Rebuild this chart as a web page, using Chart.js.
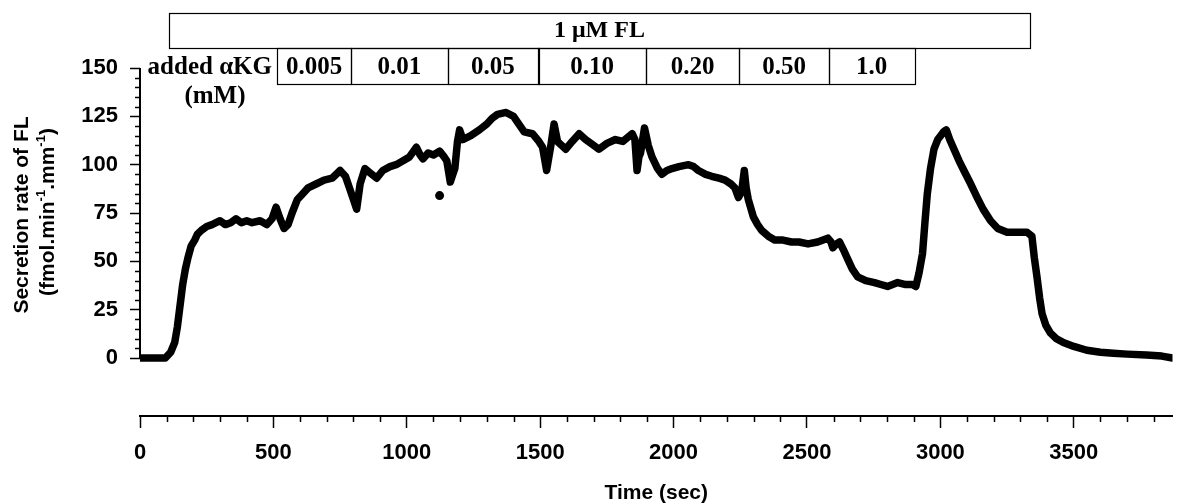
<!DOCTYPE html>
<html><head><meta charset="utf-8">
<script src="https://cdn.jsdelivr.net/npm/chart.js@4/dist/chart.umd.min.js"></script>
<style>html,body{margin:0;padding:0;background:#fff;}#wrap{width:1177px;height:504px;}</style>
</head><body><div id="wrap"><canvas id="c" width="1177" height="504"></canvas></div>
<script>
// ---- data ----
const times = [0,50,95,115,130,140,150,160,170,180,192,205,215,230,250,270,300,320,340,360,380,400,420,450,475,495,510,525,540,555,570,590,610,630,660,690,720,750,770,785,800,812,825,843,860,887,910,937,960,986,1010,1036,1050,1061,1080,1100,1123,1140,1150,1163,1170,1180,1190,1198,1210,1240,1272,1300,1320,1340,1372,1400,1420,1440,1471,1495,1509,1524,1540,1552,1565,1580,1596,1620,1646,1670,1700,1720,1750,1782,1810,1845,1855,1863,1870,1876,1891,1905,1919,1940,1956,1975,1994,2020,2056,2075,2093,2120,2143,2170,2193,2215,2230,2243,2255,2265,2272,2280,2299,2315,2330,2355,2379,2410,2442,2470,2504,2540,2578,2590,2597,2610,2622,2640,2653,2670,2690,2720,2753,2777,2802,2840,2870,2895,2908,2920,2933,2942,2951,2963,2976,2990,3001,3012,3022,3035,3051,3070,3088,3110,3138,3160,3188,3215,3250,3290,3325,3343,3352,3362,3372,3381,3395,3412,3435,3461,3500,3549,3600,3648,3700,3772,3830,3870];
const rates = [0,0,0,3,8,16,27,38,46,52,58,61,64,66,68,69,71,69,70,72,70,71,70,71,69,72,78,72,67,69,75,82,85,88,90,92,93,97,94,88,82,77,90,98,96,93,97,99,100,102,104,109,105,103,106,105,107,104,102,91,94,98,112,118,113,115,118,121,124,126,127,125,121,117,116,112,109,97,110,121,112,110,108,112,116,113,110,108,111,113,112,116,113,97,104,106,119,110,104,98,95,97,98,99,100,99,97,95,94,93,92,90,88,83,86,97,88,82,73,69,66,63,61,61,60,60,59,60,62,60,57,59,60,55,51,46,42,40,39,38,37,39,38,38,37,44,54,70,85,98,108,113,115,117,118,113,108,102,97,91,83,77,71,67,65,65,65,63,52,42,31,23,17,13,10,8,6,4,3,2.5,2,1.5,1,0];
const outlierTimes = [1123];
const outlierRates = [84];
const xTickValues = [0,500,1000,1500,2000,2500,3000,3500];
const yTickValues = [0,25,50,75,100,125,150];
const flLabel = '1 \u03bcM FL';
const flSpan = [108, 3336];
const kgLabels = ['0.005','0.01','0.05','0.10','0.20','0.50','1.0'];
const kgBounds = [515,791,1153,1493,1896,2246,2582,2903];
const xTitle = 'Time (sec)';
const yTitle1 = 'Secretion rate of FL';

const SANS = "'Liberation Sans', Arial, sans-serif";
const SERIF = "'Liberation Serif', 'Times New Roman', serif";

const extras = {
  id: 'extras',
  afterDraw(chart) {
    const ctx = chart.ctx, xs = chart.scales.x, ys = chart.scales.y;
    const ca = chart.chartArea;
    ctx.save();
    ctx.strokeStyle = '#000'; ctx.fillStyle = '#000';
    // y axis line (0..150 only)
    ctx.lineWidth = 2;
    ctx.beginPath();
    ctx.moveTo(ca.left, ys.getPixelForValue(150));
    ctx.lineTo(ca.left, ys.getPixelForValue(0));
    ctx.stroke();
    // minor ticks
    ctx.lineWidth = 1.5;
    ctx.beginPath();
    for (let v = 5; v < 150; v += 5) {
      if (v % 25 === 0) continue;
      const y = Math.round(ys.getPixelForValue(v)) + 0.5;
      ctx.moveTo(ca.left - 5, y); ctx.lineTo(ca.left, y);
    }
    for (let t = 100; t <= 3800; t += 100) {
      if (t % 500 === 0) continue;
      const x = Math.round(xs.getPixelForValue(t)) + 0.5;
      ctx.moveTo(x, ca.bottom); ctx.lineTo(x, ca.bottom + 6);
    }
    ctx.stroke();
    // y title
    ctx.save();
    ctx.translate(22, 215);
    ctx.rotate(-Math.PI / 2);
    ctx.textAlign = 'center'; ctx.textBaseline = 'middle';
    ctx.font = 'bold 21px ' + SANS;
    ctx.fillText(yTitle1, 0, 0);
    ctx.restore();
    ctx.save();
    ctx.translate(48, 212);
    ctx.rotate(-Math.PI / 2);
    ctx.textBaseline = 'middle';
    const segs = [['(fmol.min', 0], ['-1', 1], ['.mm', 0], ['-1', 1], [')', 0]];
    const fN = 'bold 21px ' + SANS, fS = 'bold 13px ' + SANS;
    let total = 0;
    segs.forEach(s => { ctx.font = s[1] ? fS : fN; total += ctx.measureText(s[0]).width; });
    let px = -total / 2;
    ctx.textAlign = 'left';
    segs.forEach(s => {
      ctx.font = s[1] ? fS : fN;
      ctx.fillText(s[0], px, s[1] ? -7 : 0);
      px += ctx.measureText(s[0]).width;
    });
    ctx.restore();
    // x title
    ctx.font = 'bold 21px ' + SANS;
    ctx.textAlign = 'center'; ctx.textBaseline = 'middle';
    ctx.fillText(xTitle, (ca.left + ca.right) / 2, 493);
    // boxes
    ctx.lineWidth = 1.2;
    const fx1 = xs.getPixelForValue(flSpan[0]), fx2 = xs.getPixelForValue(flSpan[1]);
    ctx.strokeRect(Math.round(fx1) + 0.5, 13.5, Math.round(fx2 - fx1), 35);
    ctx.font = 'bold 24px ' + SERIF;
    ctx.fillText(flLabel, (fx1 + fx2) / 2, 31);
    for (let i = 0; i < kgLabels.length; i++) {
      const a = xs.getPixelForValue(kgBounds[i]), b = xs.getPixelForValue(kgBounds[i + 1]);
      ctx.strokeRect(Math.round(a) + 0.5, 48.5, Math.round(b - a), 36);
      ctx.font = 'bold 25px ' + SERIF;
      ctx.fillText(kgLabels[i], (a + b) / 2, 68);
    }
    ctx.font = 'bold 25px ' + SERIF;
    ctx.textAlign = 'right';
    ctx.fillText('added \u03b1KG', 272, 68);
    ctx.textAlign = 'center';
    ctx.fillText('(mM)', 215, 97);
    ctx.restore();
  }
};

new Chart(document.getElementById('c'), {
  type: 'line',
  data: {
    datasets: [
      { data: times.map((t, i) => ({ x: t, y: rates[i] })), borderColor: '#000', backgroundColor: '#000',
        borderWidth: 7.5, pointRadius: 0, tension: 0, borderJoinStyle: 'round', borderCapStyle: 'round', fill: false },
      { data: outlierTimes.map((t, i) => ({ x: t, y: outlierRates[i] })), showLine: false,
        pointRadius: 4.5, backgroundColor: '#000', borderWidth: 0 }
    ]
  },
  options: {
    responsive: false, animation: false,
    layout: { padding: { top: 68, left: 0, right: 0, bottom: 0 } },
    plugins: { legend: { display: false }, tooltip: { enabled: false } },
    scales: {
      x: {
        type: 'linear', min: 0, max: 3870,
        afterBuildTicks: s => { s.ticks = xTickValues.map(v => ({ value: v })); },
        afterFit: s => { s.height = 88; },
        ticks: { font: { family: SANS, size: 22, weight: 'bold' }, color: '#000', padding: 12, maxRotation: 0, autoSkip: false,
                 callback: v => String(v) },
        grid: { drawOnChartArea: false, drawTicks: true, tickLength: 12, tickColor: '#000', tickWidth: 1.5 },
        border: { display: true, color: '#000', width: 2 }
      },
      y: {
        type: 'linear', min: -30, max: 150,
        afterBuildTicks: s => { s.ticks = yTickValues.map(v => ({ value: v })); },
        afterFit: s => { s.width = 140; },
        ticks: { font: { family: SANS, size: 22, weight: 'bold' }, color: '#000', padding: 12, callback: v => String(v) },
        grid: { drawOnChartArea: false, drawTicks: true, tickLength: 10, tickColor: '#000', tickWidth: 1.5 },
        border: { display: false }
      }
    }
  },
  plugins: [extras]
});
</script></body></html>
